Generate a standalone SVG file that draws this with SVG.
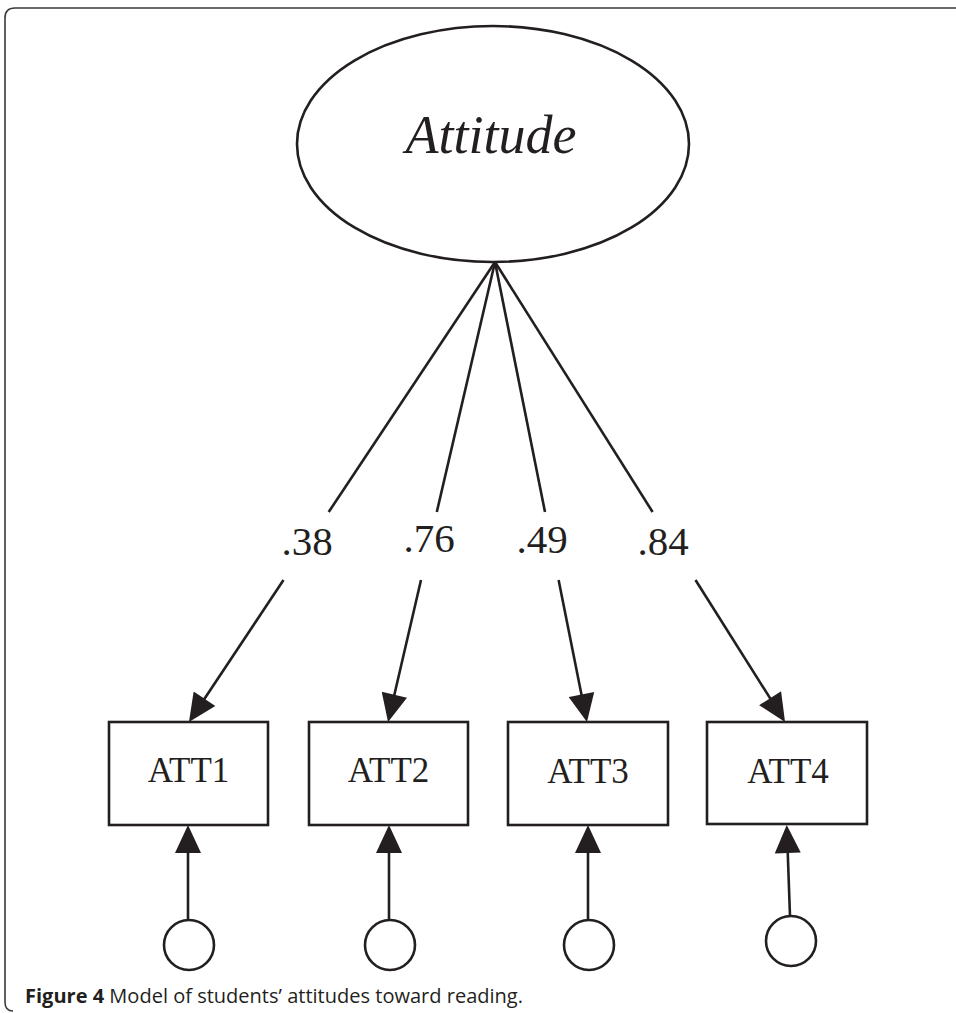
<svg xmlns="http://www.w3.org/2000/svg" width="956" height="1013" viewBox="0 0 956 1013">
<style>
.s{fill:none;stroke:#231f20;stroke-width:2.6}
.n{fill:#fff;stroke:#231f20;stroke-width:2.6}
.t{font-family:"Liberation Serif","Times New Roman",serif;fill:#231f20;text-anchor:middle}
.cap{font-family:"Open Sans","Noto Sans",sans-serif;font-size:19.5px;fill:#231f20}
</style>
<defs>
<marker id="ah" markerUnits="userSpaceOnUse" markerWidth="30" markerHeight="26" viewBox="0 0 28 26" refX="18" refY="13" orient="auto">
<path d="M0,0 L28,13 L0,26 z" fill="#231f20"/>
</marker>
</defs>
<rect width="956" height="1013" fill="#fff"/>
<path d="M956 8 H15 Q5 8 5 18 V1002 Q5 1011 13 1011" fill="none" stroke="#3a3a3a" stroke-width="1.6"/>
<g id="attitude">
<ellipse class="n" cx="493" cy="144" rx="196" ry="118"/>
<text class="t" x="491" y="153" font-size="54" font-style="italic">Attitude</text>
</g>
<g id="connectors">
<path class="s" d="M495 262 L328.7 512"/>
<path class="s" d="M283.5 580 L194.5 713.7" marker-end="url(#ah)"/>
<path class="s" d="M495 262 L436.8 512"/>
<path class="s" d="M421 580 L390.3 712.3" marker-end="url(#ah)"/>
<path class="s" d="M495 262 L545 512"/>
<path class="s" d="M558.6 580 L585 712.2" marker-end="url(#ah)"/>
<path class="s" d="M495 262 L652.6 512"/>
<path class="s" d="M695.5 580 L779.7 713.5" marker-end="url(#ah)"/>
<path class="s" d="M188 920 L188 835" marker-end="url(#ah)"/>
<path class="s" d="M389 920 L389 835" marker-end="url(#ah)"/>
<path class="s" d="M588 920 L588 835" marker-end="url(#ah)"/>
<path class="s" d="M790 916 L787.1 835" marker-end="url(#ah)"/>
</g>
<g id="labels">
<text class="t" x="307" y="555" font-size="41">.38</text>
<text class="t" x="429" y="552" font-size="41">.76</text>
<text class="t" x="542" y="553" font-size="41">.49</text>
<text class="t" x="663" y="555" font-size="41">.84</text>
</g>
<g id="att1"><rect class="n" x="109" y="722" width="159" height="103"/><text class="t" x="188.5" y="782" font-size="35">ATT1</text></g>
<g id="att2"><rect class="n" x="309" y="722" width="159" height="103"/><text class="t" x="388.5" y="782" font-size="35">ATT2</text></g>
<g id="att3"><rect class="n" x="508" y="722" width="160" height="103"/><text class="t" x="588" y="783" font-size="35">ATT3</text></g>
<g id="att4"><rect class="n" x="707" y="722" width="160" height="102"/><text class="t" x="788" y="783" font-size="35">ATT4</text></g>
<g id="e1"><circle class="n" cx="189" cy="945" r="25"/></g>
<g id="e2"><circle class="n" cx="390" cy="945" r="25"/></g>
<g id="e3"><circle class="n" cx="589" cy="945" r="25"/></g>
<g id="e4"><circle class="n" cx="791" cy="941" r="25"/></g>
<text class="cap" x="25" y="1003" textLength="498" lengthAdjust="spacingAndGlyphs"><tspan font-weight="bold">Figure 4</tspan> Model of students’ attitudes toward reading.</text>
</svg>
